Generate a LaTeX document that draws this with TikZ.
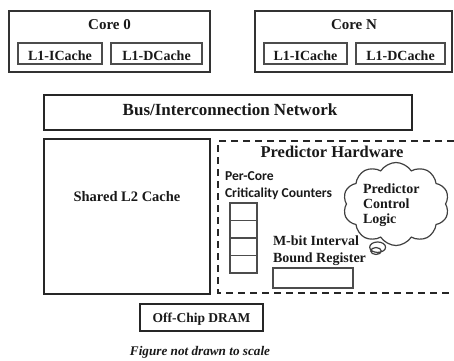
\documentclass[tikz,border=0pt]{standalone}
\usepackage{fontspec}
\setmainfont{Liberation Serif}
\newfontfamily\labelsans{Carlito}
\usetikzlibrary{shapes.symbols,shapes.callouts}
\begin{document}
\begin{tikzpicture}[x=1pt,y=-1pt,
  every node/.style={inner sep=0pt, outer sep=0pt, text=black!90},
  lbl/.style={font=\bfseries\fontsize{#1}{#1}\selectfont, anchor=base},
  lbl/.default=14,
  corebox/.style={draw=black!80, line width=2pt, anchor=north west},
  cachebox/.style={draw=black!70, line width=1.4pt, anchor=north west},
  plainbox/.style={draw=black!85, line width=1.2pt, anchor=north west},
  cellbox/.style={draw=black!70, line width=1.2pt, anchor=north west,
    minimum width=27pt, minimum height=17.5pt},
  hwborder/.style={draw=black!85, line width=1.4pt, dash pattern=on 7pt off 5pt}]
\useasboundingbox (0,0) rectangle (454,360);

% Cores with their private L1 caches
\node[corebox, minimum width=201pt, minimum height=61pt] (core0) at (9,11) {};
\node[lbl=15] (core0t) at (109.5,29) {Core 0};
\node[cachebox, minimum width=84pt, minimum height=21pt] (ic0) at (18,43) {};
\node[lbl] (ic0t) at (60,60) {L1-ICache};
\node[cachebox, minimum width=91pt, minimum height=21pt] (dc0) at (111,43) {};
\node[lbl] (dc0t) at (156.5,60) {L1-DCache};

\node[corebox, minimum width=197pt, minimum height=61pt] (coreN) at (255,11) {};
\node[lbl=15] (coreNt) at (354,29) {Core N};
\node[cachebox, minimum width=83pt, minimum height=21pt] (icN) at (264,43) {};
\node[lbl] (icNt) at (305.5,60) {L1-ICache};
\node[cachebox, minimum width=89pt, minimum height=21pt] (dcN) at (356,43) {};
\node[lbl] (dcNt) at (400.5,60) {L1-DCache};

% Interconnect
\node[plainbox, minimum width=368pt, minimum height=35pt] (bus) at (44,95) {};
\node[lbl=17] (bust) at (230,115) {Bus/Interconnection Network};

% Shared L2
\node[plainbox, minimum width=166pt, minimum height=155pt] (l2) at (44,139) {};
\node[lbl=14.5] (l2t) at (127,201) {Shared L2 Cache};

% Predictor hardware region (open towards the right edge)
\coordinate (hwTR) at (454,141);
\coordinate (hwTL) at (218,141);
\coordinate (hwBL) at (218,293);
\coordinate (hwBR) at (454,293);
\draw[hwborder] (hwTR) -- (hwTL) -- (hwBL) -- (hwBR);
\node[lbl=16.5] (hwt) at (332,157) {Predictor Hardware};

\node[font=\labelsans\bfseries\fontsize{13.6}{14}\selectfont, anchor=base west] (pc1) at (225,180) {Per-Core};
\node[font=\labelsans\bfseries\fontsize{13.6}{14}\selectfont, anchor=base west] (pc2) at (225,197) {Criticality Counters};
\node[cellbox] (c1) at (230,203) {};
\node[cellbox] (c2) at (230,220.5) {};
\node[cellbox] (c3) at (230,238) {};
\node[cellbox] (c4) at (230,255.5) {};

\node[draw=black!75, line width=1.2pt, cloud callout, cloud puffs=10, cloud puff arc=115,
  aspect=1.3, minimum width=106pt, minimum height=83pt,
  callout absolute pointer={(376,251)}] (cloud) at (396,204) {};
\node[lbl, anchor=base west] (ctl1) at (363,193) {Predictor};
\node[lbl, anchor=base west] (ctl2) at (363,208) {Control};
\node[lbl, anchor=base west] (ctl3) at (363,223) {Logic};

\node[lbl, anchor=base west] (mb1) at (273,245) {M-bit Interval};
\node[lbl, anchor=base west] (mb2) at (273,262) {Bound Register};
\node[cachebox, minimum width=80pt, minimum height=20pt] (reg) at (273,268) {};

% Off-chip memory
\node[plainbox, minimum width=123pt, minimum height=27pt] (dram) at (140,304) {};
\node[lbl=13.5] (dramt) at (201.5,322) {Off-Chip DRAM};

\node[font=\bfseries\itshape\fontsize{13.2}{14}\selectfont, anchor=base] (cap) at (200,355.5) {Figure not drawn to scale};
\end{tikzpicture}
\end{document}
